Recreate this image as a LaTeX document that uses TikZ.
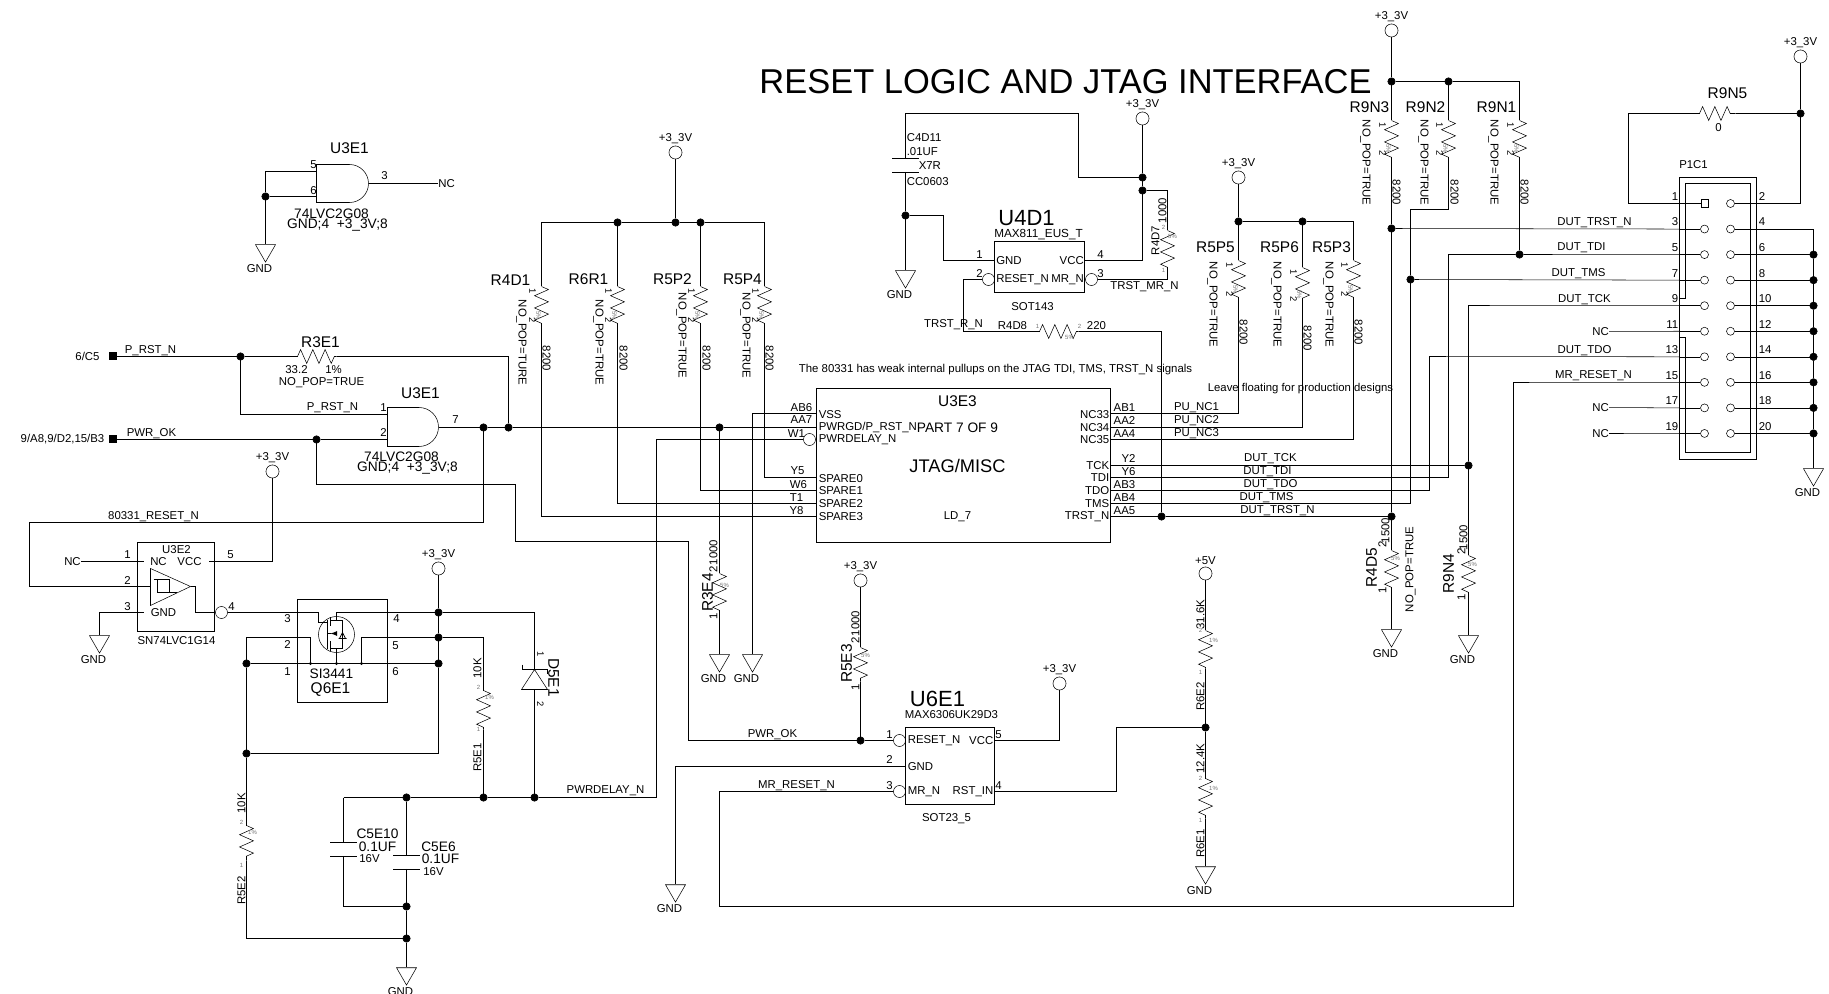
\documentclass[tikz,border=0pt]{standalone}
\usepackage{fontspec}
\setmainfont{Liberation Sans}
\usetikzlibrary{shapes.geometric,decorations.pathmorphing}
\tikzset{
x=0.75pt,
y=-0.75pt,
line width=0.9pt,
lab/.style={inner sep=0pt, font=\fontsize{8.55pt}{10pt}\selectfont},
mid/.style={inner sep=0pt, font=\fontsize{10.3pt}{12pt}\selectfont},
big/.style={inner sep=0pt, font=\fontsize{11.6pt}{14pt}\selectfont},
huge/.style={inner sep=0pt, font=\fontsize{16.5pt}{18pt}\selectfont},
small/.style={inner sep=0pt, font=\fontsize{7pt}{8pt}\selectfont},
marktxt/.style={inner sep=0pt, text=black!55, font=\fontsize{4.5pt}{5pt}\selectfont},
ru/.style={rotate=90},
rd/.style={rotate=-90},
dot/.style={circle, fill=black, draw=black, inner sep=0pt, minimum size=5.6pt},
tick/.style={circle, fill=black, inner sep=0pt, minimum size=2.6pt},
pwr/.style={circle, draw, fill=white, inner sep=0pt, minimum size=9.8pt},
inv/.style={circle, draw, fill=white, inner sep=0pt, minimum size=9pt},
hdrpin/.style={circle, draw, fill=white, inner sep=0pt, minimum size=6pt},
hdrsq/.style={rectangle, draw, fill=white, inner sep=0pt, minimum size=5.6pt},
port/.style={rectangle, fill=black, inner sep=0pt, minimum size=6pt},
gnd/.style={regular polygon, regular polygon sides=3, shape border rotate=180, draw, inner sep=0pt, minimum size=17.3pt},
box/.style={rectangle, draw, inner sep=0pt},
capbox/.style={rectangle, inner sep=0pt, minimum width=19.5pt, minimum height=9.8pt},
res/.style={decorate, decoration={zigzag, segment length=9.2pt, amplitude=5.2pt}},
}

\begin{document}
\begin{tikzpicture}
    \useasboundingbox (-0.5,-0.5) rectangle (1828.5,993.5);

    \foreach \n/\px/\py in {ja/265/196, jb/240/356, jc/483/427, jd/508/427, je/316/439, jf/719/427,
        jg/438/612, jh/438/637, ji/438/663, jj/246/663, jk/246/753, jl/534/797, jm/483/797, jn/406/797,
        jo/406/906, jp/406/938, jq/617/222, jr/675/222, js/700/222, jt/860/740, ju/1205/727,
        jv/905/215, jw/1142/177, jx/1142/190, jy/1161/516, jz/1238/221, ka/1302/221, kb/1391/81,
        kc/1448/81, kd/1391/228, ke/1519/254, kf/1410/279, kg/1468/465, kh/1391/516, ki/1800/113}
        \node[dot] (\n) at (\px,\py) {};

    \foreach \n/\px/\py/\txt in {pa/272/471/+3\_3V, pb/438/568/+3\_3V, pc/675/152/+3\_3V, pd/860/580/+3\_3V,
        pe/1059/683/+3\_3V, pf/1205/573/+5V, pg/1142/118/+3\_3V, ph/1238/177/+3\_3V, pi/1391/30/+3\_3V,
        pj/1800/56/+3\_3V}
        \node[pwr, label={[lab, label distance=1.5pt]above:\txt}] (\n) at (\px,\py) {};

    \foreach \n/\px/\py in {ga/265/250, gb/99/641, gc/406/973, gd/719/660, ge/752/660, gf/675/890,
        gg/1205/872, gh/905/276, gi/1391/635, gj/1468/641, gk/1813/474}
        \node[gnd, label={[lab, xshift=-4.5pt, label distance=1pt]below:GND}] (\n) at (\px,\py) {};

    \foreach \n/\px/\py in {ia/221/612, ib/809/439, ic/899/740, id/899/791, ie/988/279, if/1091/279}
        \node[inv] (\n) at (\px,\py) {};

    \foreach \n/\px/\py in {nca/446/183, ncb/72/561, ncc/1600/331, ncd/1600/407, nce/1600/433}
        \node[lab] (\n) at (\px,\py) {NC};

    \node[port] (sqa) at (112,356) {};
    \node[port] (sqb) at (112,439) {};

    \node[box, minimum width=220.5pt, minimum height=115.5pt] (u3e3) at (963,465) {};
    \node[box, minimum width=57.75pt, minimum height=66.75pt] (u3e2) at (175.5,586.5) {};
    \node[box, minimum width=67.5pt, minimum height=77.25pt] (q6e1) at (342,650.5) {};
    \node[box, minimum width=67.5pt, minimum height=38.25pt] (u4d1) at (1039,266.5) {};
    \node[box, minimum width=66.75pt, minimum height=57.75pt] (u6e1) at (949.5,765.5) {};
    \node[box, minimum width=57.75pt, minimum height=211.5pt] (p1c1) at (1717.5,318) {};

    \node[capbox] (c5e10) at (343,848.5) {};
    \node[capbox] (c5e6) at (406,861.5) {};
    \node[capbox] (c4d11) at (905,164.5) {};
    \foreach \n in {c5e10,c5e6,c4d11}
        \draw (\n.north west) -- (\n.north east) (\n.south west) -- (\n.south east);

    \foreach \n/\px/\ya/\yb in {r4d1/541/286/324, r6r1/617/286/324, r5p2/700/286/324, r5p4/764/286/324,
        r3e4/719/573/611, r5e3/860/647/681, r5e1/483/690/729, r5e2/246/825/860, r6e2/1205/630/668,
        r6e1/1205/778/818, r4d7/1167/230/267, r5p5/1238/260/298, r5p6/1302/267/303, r5p3/1353/260/298,
        r9n3/1391/120/157, r9n2/1448/120/157, r9n1/1519/120/157, r4d5/1391/550/587, r9n4/1468/555/592}{
        \coordinate (\n a) at (\px,\ya);
        \coordinate (\n b) at (\px,\yb);
        \draw[res] (\n a) -- (\n b);
    }
    \foreach \n/\xa/\xb/\py in {r3e1/297/336/356, r4d8/1039/1078/331, r9n5/1699/1735/113}{
        \coordinate (\n a) at (\xa,\py);
        \coordinate (\n b) at (\xb,\py);
        \draw[res] (\n a) -- (\n b);
    }

    \foreach \n/\px/\py in {ua5/316/171, ua6/316/196, uaout/368/183, ub1/387/414, ub2/387/439, ubout/438/427,
        rsta/515/484, rstb/688/541, rstc/29/522, u2in/150/586, u2out/190/586, u2p1/143/561, u2p3/143/612,
        u2p5/208/561, qg/318/612, qgb/327/622, qd/336/612, qsa/310/663, qsb/336/663, qsc/361/663,
        qse/310/637, dtop/534/669, dbot/534/689, capl/343/797, dlya/656/797, u3vss/816/413,
        u3pg/816/427, u3s0/816/477, u3s1/816/490, u3s2/816/503, u3s3/816/516, bar1/541/222, bar4/764/222,
        u3n33/1110/413, u3n34/1110/427, u3n35/1110/439, u3tck/1110/465, u3tdi/1110/477, u3tdo/1110/490,
        u3tms/1110/503, u3trst/1110/516, u6g/905/766, u6p4/994/791, u6p5/994/740, rstd/1116/727, mra/719/906,
        mrb/1513/382, ctop/905/113, cbend/1078/177, u4p1/994/260, u4p4/1084/260, trsa/963/331, trsb/1161/331,
        r9a/1410/209, r9c/1448/254, tdoa/1429/356, tcka/1468/305, r9d/1628/113}
        \coordinate (\n) at (\px,\py);

    \foreach \r [evaluate=\r as \yy using 203+25.55*\r, evaluate=\r as \od using int(2*\r+1), evaluate=\r as \ev using int(2*\r+2)] in {0,...,9}{
        \coordinate (cl\od) at (1679,\yy);
        \coordinate (cr\ev) at (1756,\yy);
        \node[hdrpin] (rp\ev) at (1730,\yy) {};
        \draw (rp\ev) -- (cr\ev);
        \node[lab, anchor=east] (nl\od) at (1678,\yy-7) {\od};
        \node[lab, anchor=west] (nr\ev) at (1758,\yy-7) {\ev};
    }
    \foreach \r [evaluate=\r as \yy using 203+25.55*\r, evaluate=\r as \od using int(2*\r+1)] in {1,...,9}{
        \node[hdrpin] (lp\od) at (1704,\yy) {};
        \draw (cl\od) -- (lp\od);
    }
    \node[hdrsq] (lp1) at (1704,203) {};
    \draw (cl1) -- (lp1);
    \foreach \r [evaluate=\r as \yy using 203+25.55*\r, evaluate=\r as \ev using int(2*\r+2)] in {2,...,9}{
        \node[dot] (jr\ev) at (1813,\yy) {};
        \draw (cr\ev) -- (jr\ev);
    }
    \draw (1679,298) -- (1685,298) -- (1685,183) -- (1750,183) -- (1750,452) -- (1685,452) -- (1685,337) -- (1679,337);

    \draw (ua5) -| (ja);
    \draw (ua6) -- (ja) -- (ga);
    \draw (uaout) -- (nca);
    \draw (316,164) -- (349,164) arc[start angle=-90, end angle=90, radius=19] -- (316,202) -- cycle;
    \draw (387,407) -- (418.5,407) arc[start angle=-90, end angle=90, radius=19.5] -- (387,446) -- cycle;

    \draw (sqa) -- (jb) -- (r3e1a);
    \draw (r3e1b) -| (jd);
    \draw (jb) |- (ub1);
    \draw (sqb) -- (je) -- (ub2);
    \draw (ubout) -- (jc) -- (jd) -- (jf) -- (u3pg);
    \draw (je) |- (rsta) |- (rstb) |- (jt) -- (ic);
    \draw (jc) |- (rstc) |- (u2in);

    \draw (pa) |- (u2p5);
    \draw (ncb) -- (u2p1);
    \draw (u2p3) -| (gb);
    \draw (u2out) -- ++(5,0) |- (ia);
    \draw (ia) -- (qg) |- (qgb);
    \draw (150,568) -- (190,586) -- (150,605) -- cycle;
    \draw (153,579) -- (169,579) -- (169,592) -- (176,592) (157,579) -- (157,592) -- (169,592);

    \node[circle, draw, inner sep=0pt, minimum size=27pt] (qc) at (336,634) {};
    \draw (qd) -- (jg);
    \draw[line width=0.7pt] (327,620) -- (327,649);
    \draw[line width=0.7pt] (330,617) -- (330,626) (330,641) -- (330,651);
    \draw[line width=0.7pt] (qd) |- (330,620) (330,648) -| (qsb);
    \draw[line width=0.7pt] (336,620) -| (342,648) -- (336,648);
    \draw[line width=0.7pt, -latex] (336,633) -- (330,633);
    \draw[line width=0.6pt] (338,638) -- (346,638) (342,632) -- (339,638) -- (345,638) -- cycle;
    \draw[line width=0.7pt] (330,633) -- (327,633);
    \foreach \n in {qsa,qsb,qsc}
        \node[tick] (t\n) at (\n) {};

    \draw (pb) -- (jg) -- (jh) -- (ji) |- (jk);
    \draw (jg) -| (dtop);
    \draw (dbot) -- (jl);
    \draw (522,664) -- (522,669) -- (547,669) -- (547,673);
    \draw (dtop) -- (547,689) -- (521,689) -- cycle;
    \draw (jh) -| (r5e1a);
    \draw (r5e1b) -- (jm);
    \draw (qsc) |- (jh);
    \draw (jj) -- (ji);
    \draw (jj) |- (qse) -- (qsa);
    \draw (jk) -- (jj);
    \draw (jk) -- (r5e2a);
    \draw (r5e2b) |- (jp);
    \draw (capl) -- (jn) -- (jm) -- (jl) -- (dlya) |- (ib);
    \draw (capl) -- (c5e10.north);
    \draw (c5e10.south) |- (jo);
    \draw (jn) -- (c5e6.north);
    \draw (c5e6.south) -- (jo) -- (jp) -- (gc);

    \draw (pc) -- (jr);
    \draw (bar1) -- (jq) -- (jr) -- (js) -- (bar4);
    \draw (bar1) -- (r4d1a);
    \draw (r4d1b) |- (u3s3);
    \draw (jq) -- (r6r1a);
    \draw (r6r1b) |- (u3s2);
    \draw (js) -- (r5p2a);
    \draw (r5p2b) |- (u3s1);
    \draw (bar4) -- (r5p4a);
    \draw (r5p4b) |- (u3s0);
    \draw (u3vss) -| (ge);
    \draw (jf) -- (r3e4a);
    \draw (r3e4b) -- (gd);

    \draw (pd) -- (r5e3a);
    \draw (r5e3b) -- (jt);
    \draw (id) -| (mra) -| (mrb) -- (cl15);
    \draw (u6g) -| (gf);
    \draw (u6p5) -| (pe);
    \draw (u6p4) -| (rstd) -- (ju);
    \draw (pf) -- (r6e2a);
    \draw (r6e2b) -- (ju) -- (r6e1a);
    \draw (r6e1b) -- (gg);

    \draw (ctop) -- (c4d11.north);
    \draw (c4d11.south) -- (jv) -- (gh);
    \draw (ctop) -| (cbend) -- (jw);
    \draw (jv) -- ++(38,0) |- (u4p1);
    \draw (ie) -| (trsa) -- (r4d8a);
    \draw (r4d8b) -- (trsb) -- (jy);
    \draw (pg) -- (jw) -- (jx) |- (u4p4);
    \draw (jx) -| (r4d7a);
    \draw (r4d7b) |- (if);
    \draw (u3trst) -- (jy) -- (kh);

    \draw (ph) -- (jz) -- (ka) -| (r5p3a);
    \draw (jz) -- (r5p5a);
    \draw (r5p5b) |- (u3n33);
    \draw (ka) -- (r5p6a);
    \draw (r5p6b) |- (u3n34);
    \draw (r5p3b) |- (u3n35);

    \draw (pi) -- (kb) -- (r9n3a);
    \draw (r9n3b) -- (kd) -- (kh) -- (r4d5a);
    \draw (r4d5b) -- (gi);
    \draw (kb) -- (kc) -| (r9n1a);
    \draw (r9n1b) -- (ke);
    \draw (kc) -- (r9n2a);
    \draw (r9n2b) |- (r9a) -- (kf) |- (u3tms);
    \draw (kd) -- (cl3);
    \draw (kf) -- (cl7);
    \draw (cl5) -- (ke) -- (r9c) |- (u3tdi);
    \draw (cl9) -- (tcka) -- (kg) -- (u3tck);
    \draw (kg) -- (r9n4a);
    \draw (r9n4b) -- (gj);
    \draw (cl13) -- (tdoa) |- (u3tdo);
    \draw (ncc) -- (cl11);
    \draw (ncd) -- (cl17);
    \draw (nce) -- (cl19);
    \draw (cr2) -| (ki) -- (pj);
    \draw (ki) -- (r9n5b);
    \draw (r9n5a) -- (r9d) |- (cl1);
    \draw (cr4) -| (jr6);
    \draw (jr6) -- (jr8) -- (jr10) -- (jr12) -- (jr14) -- (jr16) -- (jr18) -- (jr20) -- (gk);

    \node[inner sep=0pt, font=\fontsize{25.85pt}{28pt}\selectfont] (title) at (1065,81) {RESET LOGIC AND JTAG INTERFACE};

    \foreach \px/\py/\txt [count=\i] in {87/356/{6/C5}, 62/439/{9/A8,9/D2,15/B3}, 150/350/P\_RST\_N, 332/407/P\_RST\_N,
        151/433/PWR\_OK, 153/516/80331\_RESET\_N, 296/369/33.2, 333/369/1\%, 321/382/NO\_POP=TRUE,
        384/175/3, 313/164/5, 313/190/6, 383/407/1, 383/432/2, 455/419/7,
        176/549/U3E2, 127/554/1, 127/580/2, 127/606/3, 230/554/5, 231/606/4, 158/561/NC, 189/561/VCC, 163/612/GND,
        176/640/SN74LVC1G14, 287/618/3, 287/644/2, 287/671/1, 396/618/4, 395/645/5, 395/671/6,
        605/790/PWRDELAY\_N, 369/858/16V, 433/871/16V, 772/734/PWR\_OK, 889/734/1, 889/759/2, 889/785/3,
        998/734/5, 998/785/4, 796/785/MR\_RESET\_N, 951/714/MAX6306UK29D3, 946/818/SOT23\_5,
        801/407/AB6, 801/419/AA7, 796/433/W1, 797/470/Y5, 798/484/W6, 796/497/T1, 796/510/Y8,
        1124/407/AB1, 1124/420/AA2, 1124/433/AA4, 1128/458/Y2, 1128/471/Y6, 1124/484/AB3, 1124/497/AB4, 1124/510/AA5,
        1196/407/PU\_NC1, 1196/420/PU\_NC2, 1196/433/PU\_NC3, 1270/458/DUT\_TCK, 1267/471/DUT\_TDI, 1270/484/DUT\_TDO,
        1266/497/DUT\_TMS, 1277/510/DUT\_TRST\_N, 957/516/LD\_7, 979/254/1, 979/273/2, 1100/254/4, 1100/273/3,
        1144/286/TRST\_MR\_N, 953/324/TRST\_R\_N, 1012/325/R4D8, 1096/325/220, 1032/306/SOT143,
        1594/222/DUT\_TRST\_N, 1581/247/DUT\_TDI, 1578/273/DUT\_TMS, 1584/299/DUT\_TCK, 1584/350/DUT\_TDO,
        1593/375/MR\_RESET\_N, 1693/164/P1C1, 1718/127/0}
        \node[lab] (la\i) at (\px,\py) {\txt};

    \foreach \px/\py/\txt [count=\i] in {818/414/VSS, 818/427/{PWRGD/P\_RST\_N}, 818/439/PWRDELAY\_N, 818/478/SPARE0,
        818/490/SPARE1, 818/503/SPARE2, 818/516/SPARE3, 995.5/260/GND, 995.5/279/RESET\_N, 907/740/RESET\_N, 907/766/GND,
        907/791/MR\_N, 906/137/C4D11, 906/151/.01UF, 918/165/X7R, 906/181/CC0603}
        \node[lab, anchor=west] (lw\i) at (\px,\py) {\txt};

    \foreach \px/\py/\txt [count=\i] in {1109/414/NC33, 1109/427/NC34, 1109/439/NC35, 1109/465/TCK, 1109/477/TDI,
        1109/490/TDO, 1109/503/TMS, 1109/516/TRST\_N, 1083.5/260/VCC, 1083.5/279/MR\_N, 993/740/VCC, 993/791/RST\_IN}
        \node[lab, anchor=east] (le\i) at (\px,\py) {\txt};

    \foreach \px/\py/\txt [count=\i] in {331/213/74LVC2G08, 337/225/GND;4\ \ +3\_3V;8, 401/456/74LVC2G08, 407/468/GND;4\ \ +3\_3V;8,
        331/673/SI3441, 377/846/0.1UF, 440/858/0.1UF, 377/833/C5E10, 438/846/C5E6, 957/427/PART 7 OF 9}
        \node[mid] (lm\i) at (\px,\py) {\txt};

    \foreach \px/\py/\txt [count=\i] in {349/148/U3E1, 320/342/R3E1, 420/393/U3E1, 330/689/Q6E1, 510/280/R4D1, 588/279/R6R1,
        672/279/R5P2, 742/279/R5P4, 957/401/U3E3, 1215/247/R5P5, 1279/247/R5P6, 1331/247/R5P3, 1369/107/R9N3, 1425/107/R9N2,
        1496/107/R9N1, 1727/93/R9N5}
        \node[big] (lb\i) at (\px,\py) {\txt};

    \node[inner sep=0pt, font=\fontsize{13.7pt}{16pt}\selectfont] (jtag) at (957,465) {JTAG/MISC};
    \node[huge] (u4name) at (1026,218) {U4D1};
    \node[huge] (u6name) at (937,698) {U6E1};
    \node[lab, font=\fontsize{8.8pt}{10pt}\selectfont] (maxn) at (1038,234) {MAX811\_EUS\_T};
    \node[lab] (notea) at (995,369) {The 80331 has weak internal pullups on the JTAG TDI, TMS, TRST\_N signals};
    \node[lab, font=\fontsize{8.5pt}{10pt}\selectfont] (noteb) at (1300,388) {Leave floating for production designs};

    \foreach \px/\py/\txt [count=\i] in {521/342/NO\_POP=TURE, 598/342/NO\_POP=TRUE, 681/335/NO\_POP=TRUE, 745/335/NO\_POP=TRUE,
        1212/304/NO\_POP=TRUE, 1276/304/NO\_POP=TRUE, 1328/304/NO\_POP=TRUE, 1365/162/NO\_POP=TRUE, 1423/162/NO\_POP=TRUE,
        1493/162/NO\_POP=TRUE, 546/358/8200, 623/358/8200, 706/358/8200, 769/358/8200, 1243/332/8200, 1307/338/8200,
        1358/332/8200, 1396/192/8200, 1454/192/8200, 1524/192/8200}
        \node[lab, rd] (ld\i) at (\px,\py) {\txt};

    \foreach \px/\py/\txt [count=\i] in {1162/210/1000, 477/668/10K, 477/757/R5E1, 241/803/10K, 241/890/R5E2, 1200/614/31.6K,
        1200/696/R6E2, 1200/758/12.4K, 1200/843/R6E1, 713/552/1000, 855/623/1000, 1385/530/1500, 1463/537/1500,
        1410/569/NO\_POP=TRUE, 1155/240/R4D7, 713/569/2, 855/640/2, 1382/544/2, 1461/551/2, 713/616/1, 855/687/1, 1382/590/1, 1461/597/1}
        \node[lab, ru] (lu\i) at (\px,\py) {\txt};

    \foreach \px/\py/\txt [count=\i] in {707/592/R3E4, 846/663/R5E3, 1371/567/R4D5, 1448/573/R9N4}
        \node[big, ru] (lr\i) at (\px,\py) {\txt};
    \node[big, rd] (d5name) at (553,677) {D5E1};

    \foreach \px/\ya/\yb [count=\i] in {541/286/324, 617/286/324, 700/286/324, 764/286/324, 1238/260/298, 1302/267/303,
        1353/260/298, 1391/120/157, 1448/120/157, 1519/120/157}{
        \node[small, rd] (so\i) at (\px-9,\ya+5) {1};
        \node[small, rd] (st\i) at (\px-9,\yb-4) {2};
        \node[marktxt, rd] (sp\i) at (\px-3,\yb-9) {5\%};
    }
    \foreach \px/\py/\txt [count=\i] in {478/687/2, 489/697/1\%, 478/729/1, 241/822/2, 252/832/1\%, 241/865/1, 1200/630/2, 1213/640/1\%,
        1200/672/1, 1200/778/2, 1213/788/1\%, 1200/820/1, 1163/227/2, 1172/236/5\%, 1163/270/1, 1037/326/1, 1079/326/2, 1069/337/5\%,
        724/585/5\%, 865/655/5\%, 1395/558/5\%, 1472/564/5\%}
        \node[marktxt] (mk\i) at (\px,\py) {\txt};
    \node[small, rd] (dpa) at (540,654) {1};
    \node[small, rd] (dpb) at (540,704) {2};

\end{tikzpicture}
\end{document}
